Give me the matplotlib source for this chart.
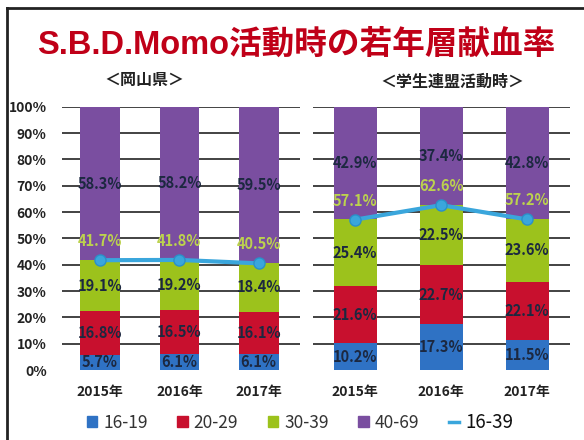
import numpy as np
import matplotlib.pyplot as plt
from matplotlib.lines import Line2D
from matplotlib.patches import Patch

plt.rcParams['font.family'] = ['Noto Sans CJK JP', 'DejaVu Sans']

years = ['2015年', '2016年', '2017年']
groups = ['＜岡山県＞', '＜学生連盟活動時＞']
series = ['16-19', '20-29', '30-39', '40-69']

# okayama prefecture
pref = {
    '16-19': [5.7, 6.1, 6.1],
    '20-29': [16.8, 16.5, 16.1],
    '30-39': [19.1, 19.2, 18.4],
    '40-69': [58.3, 58.2, 59.5],
}
pref_young = [41.7, 41.8, 40.5]

# student league activity
stud = {
    '16-19': [10.2, 17.3, 11.5],
    '20-29': [21.6, 22.7, 22.1],
    '30-39': [25.4, 22.5, 23.6],
    '40-69': [42.9, 37.4, 42.8],
}
stud_young = [57.1, 62.6, 57.2]

colors = {'16-19': '#2f72c4', '20-29': '#c8102e', '30-39': '#9cc21c', '40-69': '#7a4ea0'}
line_color = '#3aa6dc'
label_color = '#1c2840'
young_label_color = '#bcd24e'

fig = plt.figure(figsize=(5.84, 4.40), dpi=100)
W, H = 584, 440

def add_ax(x0, x1, y0, y1):
    return fig.add_axes([x0 / W, 1 - y1 / H, (x1 - x0) / W, (y1 - y0) / H])

ax1 = add_ax(62, 300, 106.7, 370)
ax2 = add_ax(313, 570, 106.7, 370)

def draw(ax, data, young, xlim):
    x = np.arange(len(years))
    bottom = np.zeros(len(years))
    for s in series:
        vals = np.array(data[s])
        ax.bar(x, vals, 0.5, bottom=bottom, color=colors[s], zorder=2)
        for xi, b, v in zip(x, bottom, vals):
            ax.text(xi, b + v / 2, f'{v:.1f}%', ha='center', va='center',
                    fontsize=10.5, fontweight='bold', color=label_color, zorder=4)
        bottom += vals
    ax.plot(x, young, color=line_color, lw=3, marker='o', ms=8,
            markeredgecolor='#2a90c8', markerfacecolor=line_color, zorder=3)
    for xi, v in zip(x, young):
        ax.annotate(f'{v:.1f}%', (xi, v), xytext=(0, 8), textcoords='offset points',
                    ha='center', va='bottom', fontsize=10.5, fontweight='bold',
                    color=young_label_color, zorder=4)
    ax.set_ylim(0, 100)
    ax.set_xlim(*xlim)
    for g in range(10, 101, 10):
        ax.axhline(g, color='#222222', lw=1.2, zorder=1)
    ax.set_xticks(x)
    ax.set_xticklabels(years, fontsize=10, fontweight='bold', color='#222222')
    ax.tick_params(length=0, pad=11)
    for sp in ax.spines.values():
        sp.set_visible(False)

draw(ax1, pref, pref_young, (-0.48, 2.52))
draw(ax2, stud, stud_young, (-0.49, 2.5))

ax1.set_yticks(range(0, 101, 10))
ax1.set_yticklabels([f'{v}%' for v in range(0, 101, 10)], fontsize=10,
                    fontweight='bold', color='#222222')
ax1.tick_params(axis='y', pad=11)
ax2.set_yticks([])

fig.text(296 / W, 1 - 45 / H, 'S.B.D.Momo活動時の若年層献血率', ha='center', va='center',
         fontsize=23.5, fontweight='bold', color='#c00018',
         family=['Liberation Sans', 'Noto Sans CJK JP'])
fig.text(144 / W, 1 - 80 / H, groups[0], ha='center', va='center',
         fontsize=11.5, fontweight='bold', color='#222222')
fig.text(452 / W, 1 - 82 / H, groups[1], ha='center', va='center',
         fontsize=11.5, fontweight='bold', color='#222222')

# frame
fig.add_artist(Line2D([7 / W, 1], [1 - 8 / H, 1 - 8 / H], color='#222222', lw=2))
fig.add_artist(Line2D([7 / W, 7 / W], [0, 1 - 8 / H], color='#222222', lw=2))

handles = [Patch(color=colors[s]) for s in series]
handles.append(Line2D([], [], color=line_color, lw=2.5))
leg = fig.legend(handles, series + ['16-39'], loc='center', ncol=5,
                 bbox_to_anchor=(300 / W, 1 - 422 / H), frameon=False,
                 fontsize=12.5, handlelength=0.6, handleheight=0.6,
                 handletextpad=0.35, columnspacing=1.7)
for t in leg.get_texts():
    t.set_color('#333333')
leg.get_texts()[-1].set_fontsize(13.5)
leg.get_texts()[-1].set_color('#111111')

fig.savefig('out.png', dpi=100)
